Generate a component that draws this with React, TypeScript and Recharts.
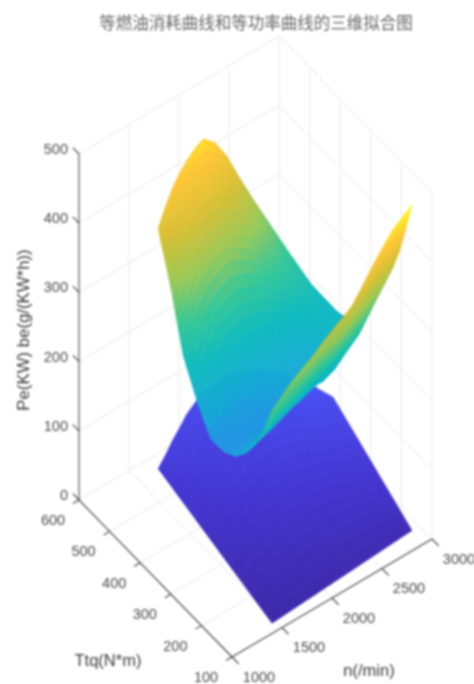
import { ScatterChart, Scatter, XAxis, YAxis } from "recharts";

const WIDTH = 474;
const HEIGHT = 684;

const TITLE = "等燃油消耗曲线和等功率曲线的三维拟合图";
const N_TICKS = [1000, 1500, 2000, 2500, 3000];
const T_TICKS = [600, 500, 400, 300, 200, 100];
const Z_TICKS = [0, 100, 200, 300, 400, 500];

// speed samples of both surfaces and the torque limit read at each of them
const SPEEDS = [1400, 1500, 1600, 1700, 1800, 1900, 2000, 2100, 2200, 2300, 2400, 2500, 2600, 2700, 2800];
const TORQUE_LIMIT = [472, 478, 490, 500, 510, 515, 520, 515, 510, 500, 485, 465, 440, 400, 358];

// share of the 100..limit torque span per table row
const BE_ROWS = [0, 0.08, 0.16, 0.24, 0.32, 0.42, 0.54, 0.66, 0.78, 0.89, 1];
const BE = [
  [322, 275, 243, 219, 202, 191, 190, 225, 270, 350, 416],
  [334, 285, 250, 222, 202, 190, 192, 232, 298, 385, 440],
  [347, 296, 258, 225, 203, 190, 196, 240, 318, 405, 450],
  [356, 304, 263, 228, 204, 190, 198, 246, 328, 412, 458],
  [365, 312, 268, 232, 205, 190, 200, 252, 335, 418, 462],
  [376, 321, 276, 238, 208, 192, 202, 256, 340, 418, 470],
  [386, 330, 285, 245, 212, 195, 205, 258, 340, 415, 473],
  [395, 337, 291, 251, 218, 198, 208, 258, 332, 402, 461],
  [405, 345, 298, 258, 225, 202, 212, 258, 325, 388, 436],
  [424, 361, 311, 269, 232, 203, 213, 254, 310, 362, 400],
  [444, 378, 325, 280, 240, 205, 215, 250, 297, 338, 365],
  [462, 399, 346, 300, 260, 225, 225, 248, 278, 308, 331],
  [479, 420, 368, 320, 280, 250, 235, 245, 262, 280, 296],
  [490, 438, 391, 351, 318, 287, 261, 252, 250, 255, 259],
  [500, 455, 414, 382, 356, 328, 287, 262, 242, 234, 234],
];

const PE_ROWS = [0, 0.25, 0.5, 0.75, 1];
const PE = [
  [14.7, 28.3, 41.9, 55.6, 69.2],
  [15.7, 30.5, 45.4, 60.2, 80.0],
  [16.8, 33.1, 49.4, 65.8, 85.0],
  [17.8, 35.6, 53.4, 71.2, 90.0],
  [18.8, 38.2, 57.5, 76.8, 96.1],
  [19.9, 40.5, 61.2, 81.8, 102.5],
  [20.9, 42.9, 64.9, 86.9, 108.9],
  [22.0, 44.9, 67.6, 90.4, 113.2],
  [23.0, 46.6, 70.3, 93.9, 117.5],
  [24.1, 48.2, 72.3, 96.3, 120.4],
  [25.1, 49.3, 73.5, 97.8, 121.9],
  [26.2, 50.0, 74.0, 97.9, 121.7],
  [27.2, 50.4, 73.5, 96.7, 119.8],
  [28.3, 49.5, 70.7, 91.9, 113.1],
  [29.3, 48.2, 67.2, 86.1, 105.0],
];

const PARULA = [
  [58, 36, 165], [65, 50, 208], [70, 76, 242], [58, 122, 250], [22, 170, 215], [12, 185, 190],
  [50, 198, 150], [150, 200, 85], [210, 190, 50], [254, 196, 50], [249, 251, 20],
];
const Z_MIN = 12;
const Z_MAX = 500;

function parula(z: number) {
  const t = Math.min(1, Math.max(0, (z - Z_MIN) / (Z_MAX - Z_MIN))) * (PARULA.length - 1);
  const i = Math.min(PARULA.length - 2, Math.floor(t));
  const f = t - i;
  const c = PARULA[i].map((v, k) => Math.round(v + (PARULA[i + 1][k] - v) * f));
  return `rgb(${c[0]},${c[1]},${c[2]})`;
}

// the orthographic view of the 3-D axes box
function project(n: number, t: number, z: number) {
  return {
    x: 232 + (n - 1000) * 0.1 - (t - 100) * 0.306,
    y: 657 - (n - 1000) * 0.059 - (t - 100) * 0.314 - z * 0.692,
  };
}

function buildQuads(rows: number[], table: number[][], sub: number) {
  const vertex = (c: number, r: number) => {
    const t = 100 + rows[r] * (TORQUE_LIMIT[c] - 100);
    return { ...project(SPEEDS[c], t, table[c][r]), z: table[c][r] };
  };
  const quads = [];
  // far rows first, low torque last
  for (let r = rows.length - 2; r >= 0; r--) {
    for (let c = SPEEDS.length - 2; c >= 0; c--) {
      const a = vertex(c, r);
      quads.push({ x: a.x, y: a.y, sub, corners: [a, vertex(c + 1, r), vertex(c + 1, r + 1), vertex(c, r + 1)] });
    }
  }
  return quads;
}

function QuadShape({ cx, cy, payload }: any) {
  const [a, b, c, d] = payload.corners;
  const sub = payload.sub;
  const dx = cx - payload.x;
  const dy = cy - payload.y;
  const at = (u: number, v: number, k: "x" | "y" | "z") =>
    a[k] * (1 - u) * (1 - v) + b[k] * u * (1 - v) + c[k] * u * v + d[k] * (1 - u) * v;
  const cells = [];
  for (let j = sub - 1; j >= 0; j--) {
    for (let i = sub - 1; i >= 0; i--) {
      const u0 = i / sub, u1 = (i + 1) / sub, v0 = j / sub, v1 = (j + 1) / sub;
      const pts = [[u0, v0], [u1, v0], [u1, v1], [u0, v1]]
        .map(([u, v]) => `${(at(u, v, "x") + dx).toFixed(2)},${(at(u, v, "y") + dy).toFixed(2)}`)
        .join(" ");
      const fill = parula(at((u0 + u1) / 2, (v0 + v1) / 2, "z"));
      cells.push(<polygon key={`${i}-${j}`} points={pts} fill={fill} stroke={fill} strokeWidth={0.5} />);
    }
  }
  return <g>{cells}</g>;
}

function TextShape({ cx, cy, payload }: any) {
  return (
    <text
      x={cx}
      y={cy}
      textAnchor={payload.anchor ?? "middle"}
      dominantBaseline="central"
      fontFamily={payload.family ?? "'Liberation Sans', Arial, sans-serif"}
      fontSize={payload.size ?? 14.5}
      fill={payload.color ?? "#4a4a4a"}
      transform={payload.rotate ? `rotate(${payload.rotate} ${cx} ${cy})` : undefined}
    >
      {payload.text}
    </text>
  );
}

const noDot = () => null;

function segment(a: { x: number; y: number }, b: { x: number; y: number }) {
  return [a, b];
}

const gridLines = [
  ...N_TICKS.map((n) => segment(project(n, 100, 0), project(n, 600, 0))),
  ...T_TICKS.map((t) => segment(project(1000, t, 0), project(3000, t, 0))),
  ...N_TICKS.slice(1).map((n) => segment(project(n, 600, 0), project(n, 600, 500))),
  ...T_TICKS.slice(1).map((t) => segment(project(3000, t, 0), project(3000, t, 500))),
  ...Z_TICKS.slice(1).map((z) => segment(project(1000, 600, z), project(3000, 600, z))),
  ...Z_TICKS.slice(1).map((z) => segment(project(3000, 600, z), project(3000, 100, z))),
];

const axisLines = [
  segment(project(1000, 600, 0), project(1000, 600, 500)),
  segment(project(1000, 600, 0), project(1000, 100, 0)),
  segment(project(1000, 100, 0), project(3000, 100, 0)),
  ...N_TICKS.map((n) => segment(project(n, 100, 0), project(n, 78, 0))),
  ...T_TICKS.map((t) => segment(project(1000, t, 0), project(940, t, 0))),
  ...Z_TICKS.map((z) => segment(project(1000, 600, z), project(1000, 620, z))),
];

const shifted = (p: { x: number; y: number }, dx: number, dy: number, text: string, anchor?: string) => ({
  x: p.x + dx,
  y: p.y + dy,
  text,
  anchor,
});

const labels = [
  ...Z_TICKS.map((z) => shifted(project(1000, 600, z), -11, -5, String(z), "end")),
  ...T_TICKS.map((t) => shifted(project(1000, t, 0), -26, 20, String(t))),
  ...N_TICKS.map((n) => shifted(project(n, 100, 0), 27, 19.5, String(n))),
  { x: 256, y: 22, text: TITLE, size: 16.5, color: "#666", family: "'Noto Sans CJK SC', sans-serif" },
  { x: 23, y: 330, text: "Pe(KW) be(g/(KW*h))", size: 16.8, rotate: -90, color: "#3c3c3c" },
  { x: 108, y: 660, text: "Ttq(N*m)", size: 16.5, color: "#3c3c3c" },
  { x: 369, y: 670, text: "n(/min)", size: 16.5, color: "#3c3c3c" },
];

const peQuads = buildQuads(PE_ROWS, PE, 4);
const beQuads = buildQuads(BE_ROWS, BE, 5);

export default function App() {
  return (
    <div style={{ position: "absolute", left: 0, top: 0, width: WIDTH, height: HEIGHT, filter: "blur(0.8px)" }}>
      <ScatterChart width={WIDTH} height={HEIGHT} margin={{ top: 0, right: 0, bottom: 0, left: 0 }}>
        <XAxis type="number" dataKey="x" domain={[0, WIDTH]} hide />
        <YAxis type="number" dataKey="y" domain={[0, HEIGHT]} reversed hide />
        {gridLines.map((d, i) => (
          <Scatter key={`g${i}`} data={d} line={{ stroke: "#e9e9e9", strokeWidth: 1 }} shape={noDot} isAnimationActive={false} />
        ))}
        {axisLines.map((d, i) => (
          <Scatter key={`a${i}`} data={d} line={{ stroke: "#444", strokeWidth: 1.1 }} shape={noDot} isAnimationActive={false} />
        ))}
        <Scatter data={peQuads} shape={QuadShape} isAnimationActive={false} />
        <Scatter data={beQuads} shape={QuadShape} isAnimationActive={false} />
        <Scatter data={labels} shape={TextShape} isAnimationActive={false} />
      </ScatterChart>
    </div>
  );
}
